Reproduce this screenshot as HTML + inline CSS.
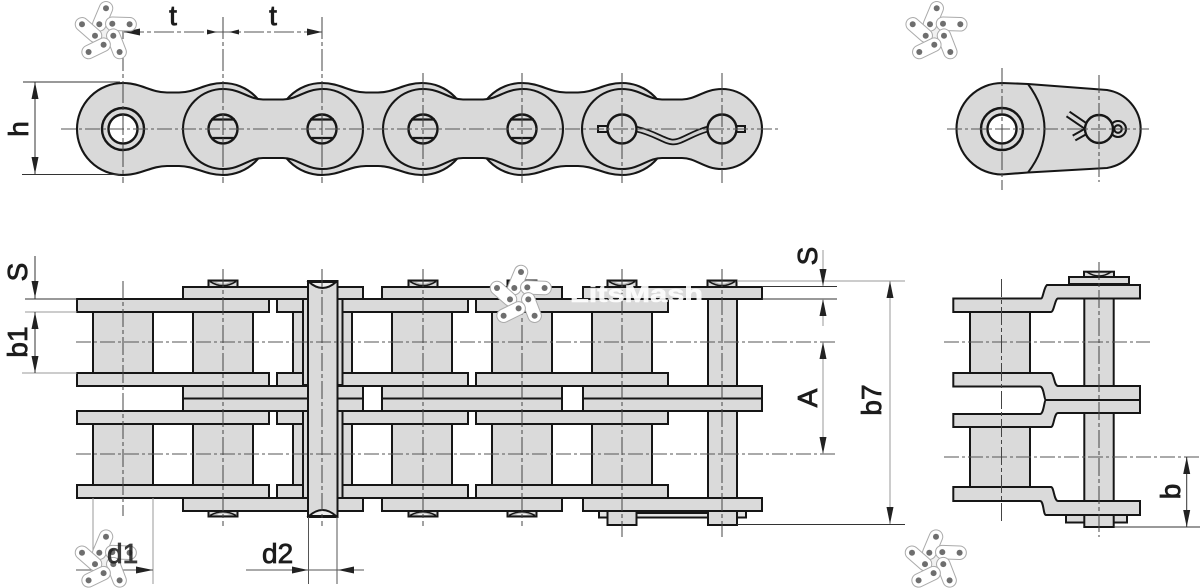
<!DOCTYPE html>
<html><head><meta charset="utf-8"><style>
html,body{margin:0;padding:0;background:#fff;width:1200px;height:588px;overflow:hidden}
svg{display:block;filter:blur(.35px)}
.o{fill:#d9d9d9;stroke:#161616;stroke-width:2.100;stroke-linejoin:round}
.p{fill:#dadada;stroke:#161616;stroke-width:2;stroke-linejoin:miter}
.n{fill:none;stroke:#161616;stroke-width:2}
.c{stroke:#555;stroke-width:1;stroke-dasharray:15 3 3 3;fill:none}
.v{stroke:#444;stroke-width:1;stroke-dasharray:18 3 4 3;fill:none}
.d{stroke:#333;stroke-width:1;fill:none}
.g{stroke:#999;stroke-width:1;fill:none}
.a{fill:#222}
text{font-family:"Liberation Sans",sans-serif;font-size:28px;fill:#1c1c1c;stroke:#1c1c1c;stroke-width:.8}
.l1{fill:none;stroke:#aaa;stroke-width:14.500;stroke-linecap:round}
.l2{fill:none;stroke:#fff;stroke-width:12.500;stroke-linecap:round}
</style></head><body>
<svg width="1200" height="588" viewBox="0 0 1200 588" xmlns="http://www.w3.org/2000/svg">
<defs>
<path id="ol" d="M0 83C18 83 28 92.500 44 92.500L56 92.500C72 92.500 82 83 100 83A46 46 0 0 1 100 175C82 175 72 166 56 166L44 166C28 166 18 175 0 175A46 46 0 0 1 0 83Z" class="o"/>
<path id="il" d="M0 89C18 89 26 99.500 40 99.500L60 99.500C74 99.500 82 89 100 89A40 40 0 0 1 100 169C82 169 74 158 60 158L40 158C26 158 18 169 0 169A40 40 0 0 1 0 89Z" class="o"/>
<g id="pin"><circle r="14.500" class="o" style="stroke-width:2.400"/><path d="M-12 -9.500H12M-12 9H12" class="n" style="stroke-width:2.200"/></g>
<path id="au" d="M0 0L-3.500 17H3.500Z" class="a"/>
<g id="rt"><rect x="-14.500" y="-6.500" width="29" height="6.500" class="p"/><path d="M-13 -5.500Q0 3 13 -5.500" fill="#b5b5b5" stroke="#161616" stroke-width="1.600"/><path d="M-7 -5Q0 -1.500 7 -5Z" fill="#eee"/></g>
<g id="rb"><rect x="-14.500" y="0" width="29" height="5.500" class="p"/><path d="M-13 4.500Q0 -3 13 4.500" fill="#b5b5b5" stroke="#161616" stroke-width="1.600"/><path d="M-7 4Q0 .8 7 4Z" fill="#eee"/></g>
<g id="star">
<path d="M30 18L46 18L50 40L30 42Z" fill="#f1f1f1" stroke="#bbb" stroke-width=".8"/>
<path class="l1" d="M36.700 8.300L30 24.300"/><path class="l2" d="M36.700 8.300L30 24.300"/>
<path class="l1" d="M43 23.700L60.300 24.300"/><path class="l2" d="M43 23.700L60.300 24.300"/>
<path class="l1" d="M12.700 24.300L25.700 35.700"/><path class="l2" d="M12.700 24.300L25.700 35.700"/>
<path class="l1" d="M44 35.700L50.300 52"/><path class="l2" d="M44 35.700L50.300 52"/>
<path class="l1" d="M34.300 44.700L19.300 52"/><path class="l2" d="M34.300 44.700L19.300 52"/>
<g fill="#6e6e6e"><circle cx="36.700" cy="8.300" r="3"/><circle cx="12.700" cy="24.300" r="3"/><circle cx="30" cy="24.300" r="3"/><circle cx="43" cy="23.700" r="3"/><circle cx="60.300" cy="24.300" r="3"/><circle cx="25.700" cy="35.700" r="3"/><circle cx="44" cy="35.700" r="3"/><circle cx="34.300" cy="44.700" r="3"/><circle cx="19.300" cy="52" r="3"/><circle cx="50.300" cy="52" r="3"/></g>
</g>
</defs>

<!-- TOP VIEW -->
<use href="#ol" x="123"/><use href="#ol" x="322"/><use href="#ol" x="522"/>
<use href="#il" x="223"/><use href="#il" x="423"/><use href="#il" x="622"/>
<circle cx="123" cy="129" r="21" class="o" style="stroke-width:2.400"/><circle cx="123" cy="129" r="14.500" class="n" style="fill:#fff;stroke-width:2.400"/>
<use href="#pin" x="223" y="129"/><use href="#pin" x="322" y="129"/><use href="#pin" x="423" y="129"/><use href="#pin" x="522" y="129"/>
<!-- cotter pin -->
<rect x="598" y="126" width="10" height="6" class="p"/><rect x="736" y="126" width="9" height="6" class="p"/>
<path d="M636 129C655 133 665 142 673 142C682 142 692 133 708 129" fill="none" stroke="#161616" stroke-width="6.500"/>
<path d="M636 129C655 133 665 142 673 142C682 142 692 133 708 129" fill="none" stroke="#d0d0d0" stroke-width="3"/>
<circle cx="622" cy="129" r="14.500" class="o" style="stroke-width:2.400"/><circle cx="722" cy="129" r="14.500" class="o" style="stroke-width:2.400"/>
<path class="c" d="M61 129H778"/>
<path class="v" d="M123 17V183M223 17V183M322 17V183M423 73V183M522 73V183M622 73V183M722 73V183" style="stroke-dasharray:22 3 4 3"/>

<!-- t dim -->
<path class="d" d="M124 32H322" style="stroke-dasharray:20 3 4 3;stroke:#555"/>
<path class="a" d="M124 32L140 28.500V35.500ZM322 32L307 28.500V35.500ZM217 32L207 29.500V34.500ZM229 32L239 29.500V34.500Z"/>
<text x="173" y="25" text-anchor="middle">t</text><text x="273" y="25" text-anchor="middle">t</text>
<!-- h dim -->
<path class="d" d="M23 82H120M22 174.500H120M35 82V174"/>
<use href="#au" x="35" y="82"/><use href="#au" transform="translate(35 174) scale(1 -1)"/>
<text transform="translate(28 129) rotate(-90)" text-anchor="middle">h</text>

<!-- SIDE VIEW TOP -->
<path class="o" d="M1002 83L1028 84L1107 90A40 39.500 0 0 1 1107 168L1028 172.500L1002 174.500A45.500 45.750 0 0 1 1002 83Z"/>
<path class="n" d="M1028 84Q1061 129 1028 172.500"/>
<circle cx="1002" cy="129" r="21" class="o" style="stroke-width:2.400"/><circle cx="1002" cy="129" r="14.500" class="n" style="fill:#fff;stroke-width:2.400"/>
<path d="M1090 129L1068 114M1090 129L1074 138" stroke="#161616" stroke-width="7.500" fill="none"/>
<path d="M1090 129L1068 114M1090 129L1074 138" stroke="#d9d9d9" stroke-width="3.500" fill="none"/>
<circle cx="1118" cy="129" r="8" class="o"/><circle cx="1118" cy="129" r="3.800" class="o"/>
<circle cx="1099" cy="129" r="14" class="o" style="stroke-width:2.400"/>
<path class="c" d="M947 129H1149"/>
<path class="v" d="M1002 68V190M1099 75V182"/>

<!-- FRONT VIEW plates -->
<rect x="708" y="299" width="29" height="87" class="p"/><rect x="708" y="411" width="29" height="87" class="p"/>
<g class="p">
<rect x="93" y="312" width="60" height="61"/><rect x="193" y="312" width="60" height="61"/><rect x="293" y="312" width="59" height="61"/><rect x="392" y="312" width="60" height="61"/><rect x="492" y="312" width="60" height="61"/><rect x="592" y="312" width="60" height="61"/>
<rect x="93" y="424" width="60" height="61"/><rect x="193" y="424" width="60" height="61"/><rect x="293" y="424" width="59" height="61"/><rect x="392" y="424" width="60" height="61"/><rect x="492" y="424" width="60" height="61"/><rect x="592" y="424" width="60" height="61"/>
</g>
<g class="p">
<rect x="183" y="287" width="180" height="12"/><rect x="382" y="287" width="180" height="12"/><rect x="583" y="287" width="179" height="12"/>
<rect x="183" y="386" width="180" height="12.500"/><rect x="382" y="386" width="180" height="12.500"/><rect x="583" y="386" width="179" height="12.500"/>
<rect x="183" y="398.500" width="180" height="12.500"/><rect x="382" y="398.500" width="180" height="12.500"/><rect x="583" y="398.500" width="179" height="12.500"/>
<rect x="183" y="498" width="180" height="13"/><rect x="382" y="498" width="180" height="13"/><rect x="583" y="498" width="179" height="13"/>
</g>
<g class="p">
<rect x="77" y="299" width="192" height="13"/><rect x="277" y="299" width="191" height="13"/><rect x="476" y="299" width="192" height="13"/>
<rect x="77" y="373" width="192" height="13"/><rect x="277" y="373" width="191" height="13"/><rect x="476" y="373" width="192" height="13"/>
<rect x="77" y="411" width="192" height="13"/><rect x="277" y="411" width="191" height="13"/><rect x="476" y="411" width="192" height="13"/>
<rect x="77" y="485" width="192" height="13"/><rect x="277" y="485" width="191" height="13"/><rect x="476" y="485" width="192" height="13"/>
</g>
<use href="#rt" x="223" y="287"/><use href="#rt" x="423" y="287"/><use href="#rt" x="522" y="287"/><use href="#rt" x="622" y="287"/><use href="#rt" x="722" y="287"/>
<use href="#rb" x="223" y="511"/><use href="#rb" x="423" y="511"/><use href="#rb" x="522" y="511"/>
<rect x="599" y="511" width="147" height="6.500" class="p" style="fill:#e4e4e4"/>
<path d="M630 512.500H715" stroke="#161616" stroke-width="3"/>
<rect x="607.500" y="511" width="29" height="14" class="p"/><rect x="708" y="511" width="29" height="14" class="p"/>
<rect x="303" y="299" width="39.500" height="86" class="p"/><rect x="303" y="411" width="39.500" height="87" class="p"/>
<rect x="308" y="281" width="29.500" height="236" class="p"/>
<path d="M309 282Q322.500 294 336 282Z" fill="#eee" stroke="#161616" stroke-width="2"/>
<path d="M309 516Q322.500 504 336 516Z" fill="#eee" stroke="#161616" stroke-width="2"/>

<path class="c" d="M76 342H837M76 454H837"/>
<path class="v" d="M123 281V516M223 269V526M322 269V526M423 269V526M522 269V526M622 269V537M722 269V537"/>

<!-- left dims -->
<path class="d" d="M25 299H77"/><path class="g" d="M25 312H77M22 373H77"/>
<path class="d" d="M35 256V299M35 312V373"/>
<use href="#au" transform="translate(35 298) scale(1 -1)"/>
<use href="#au" x="35" y="312"/><use href="#au" transform="translate(35 373) scale(1 -1)"/>
<text transform="translate(27 272) rotate(-90)" text-anchor="middle">S</text>
<text transform="translate(27 342) rotate(-90)" text-anchor="middle">b1</text>

<!-- right dims of front view -->
<path class="g" d="M737 281H905"/>
<path class="d" d="M762 286.500H837M762 299H837M737 524.500H905"/>
<path class="g" d="M823 250V286M823 299V326M823 342V454M890 281V524"/>
<use href="#au" transform="translate(823 286) scale(1 -1)"/>
<use href="#au" x="823" y="299"/><use href="#au" x="823" y="342"/><use href="#au" transform="translate(823 454) scale(1 -1)"/>
<use href="#au" x="890" y="281"/><use href="#au" transform="translate(890 524) scale(1 -1)"/>
<text transform="translate(817 256) rotate(-90)" text-anchor="middle">S</text>
<text transform="translate(817 398) rotate(-90)" text-anchor="middle">A</text>
<text transform="translate(881 400) rotate(-90)" text-anchor="middle">b7</text>

<!-- d1 d2 dims -->
<path class="g" d="M93 498V584M153 498V584"/>
<path class="d" d="M308.500 517V584M337 517V584M246 570H364M76 570H153" style="stroke:#555"/>
<path class="a" d="M153 570L136 566.500V573.500ZM308 570L292 566.500V573.500ZM338 570L354 566.500V573.500Z"/>
<text x="262" y="563">d2</text>

<!-- SIDE VIEW BOTTOM -->
<rect x="1084" y="271.700" width="30" height="5.500" class="p"/><path d="M1087 272Q1099 280 1111 272" class="n" style="stroke-width:1.500"/>
<rect x="1069" y="277" width="60" height="7" class="p"/>
<rect x="1066" y="515" width="61" height="7.500" class="p"/>
<rect x="1084.300" y="298" width="29.400" height="88" class="p"/><rect x="1084.300" y="413" width="29.400" height="88" class="p"/>
<rect x="1084.300" y="515" width="29.400" height="12" class="p"/>
<rect x="970" y="312" width="60" height="61" class="p"/><rect x="970" y="427" width="60" height="60" class="p"/>
<path class="p" d="M953.300 298.500H1041C1043 298.500 1044 287 1047 285H1140V298.500H1058C1055 298.500 1054 312 1051 312H953.300Z"/>
<path class="p" d="M953.300 373H1051C1054 373 1054 386 1058 386H1140V400H1046C1044 400 1044 386.500 1040 386.500H953.300Z"/>
<path class="p" d="M953.300 414H1040C1044 414 1044 400 1046 400H1140V413H1058C1054 413 1054 427 1051 427H953.300Z"/>
<path class="p" d="M953.300 487H1051C1054 487 1054 501 1058 501H1140V515H1046C1043 515 1044 501 1040 501H953.300Z"/>
<path class="c" d="M944 342H1150M944 457H1200"/>
<path class="v" d="M1001.500 279V522M1099 262V537"/>
<path class="d" d="M1114 527H1200M1186.700 457V527"/>
<use href="#au" x="1186.700" y="457"/><use href="#au" transform="translate(1186.700 527) scale(1 -1)"/>
<text transform="translate(1180 491.500) rotate(-90)" text-anchor="middle">b</text>

<!-- watermark -->
<text x="570" y="302" textLength="133" lengthAdjust="spacingAndGlyphs" style="font-size:24px;font-weight:bold;fill:#fff;stroke:#fff;stroke-width:.6" opacity=".9">LitsMash</text>
<use href="#star" x="69.300" y="0"/>
<use href="#star" x="900" y="0"/>
<use href="#star" x="484.300" y="263.700"/>
<use href="#star" x="69.300" y="528.400"/>
<text x="107" y="563" opacity=".85">d1</text>
<use href="#star" x="899.300" y="528.400"/>
</svg>
</body></html>
